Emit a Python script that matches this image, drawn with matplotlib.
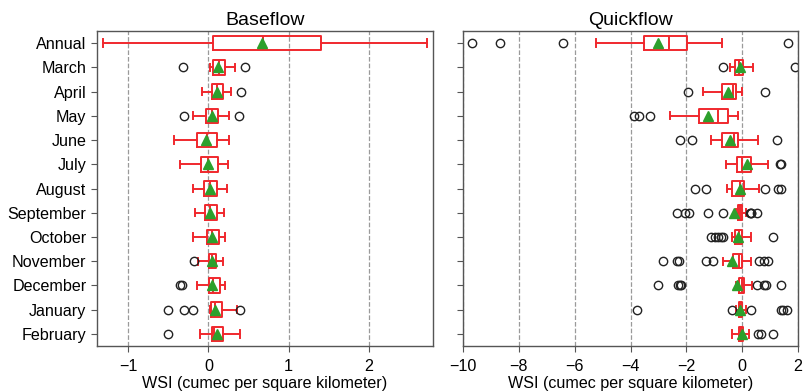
import numpy as np
import matplotlib
matplotlib.use("Agg")
import matplotlib.pyplot as plt

plt.rcParams['font.family'] = ['Liberation Sans', 'DejaVu Sans']

categories = ["Annual", "March", "April", "May", "June", "July", "August",
              "September", "October", "November", "December", "January", "February"]

# Baseflow summary statistics per category
base_whislo = [-1.32, 0.02, -0.08, -0.195, -0.43, -0.36, -0.195, -0.166, -0.19, -0.125, -0.14, 0.02, -0.11]
base_q1     = [0.054, 0.06, 0.046, -0.03, -0.145, -0.09, -0.05, -0.045, -0.02, 0.005, 0.01, 0.03, 0.04]
base_med    = [0.675, 0.13, 0.11, 0.04, -0.02, 0.0, 0.02, 0.02, 0.04, 0.04, 0.06, 0.08, 0.07]
base_q3     = [1.40, 0.20, 0.18, 0.125, 0.11, 0.12, 0.11, 0.11, 0.13, 0.10, 0.146, 0.175, 0.18]
base_whishi = [2.72, 0.33, 0.28, 0.25, 0.26, 0.24, 0.23, 0.19, 0.21, 0.18, 0.21, 0.35, 0.39]
base_mean   = [0.67, 0.125, 0.11, 0.04, -0.03, -0.01, 0.02, 0.02, 0.04, 0.04, 0.05, 0.085, 0.105]
base_fliers = [[], [-0.32, 0.45], [0.41], [-0.30, 0.38], [], [], [], [], [],
               [-0.18], [-0.36, -0.33], [-0.50, -0.31, -0.195, 0.39], [-0.50]]

# Quickflow summary statistics per category
quick_whislo = [-5.22, -0.44, -1.40, -2.58, -1.10, -0.59, -0.56, -0.22, -0.36, -0.70, -0.22, -0.22, -0.35]
quick_q1     = [-3.51, -0.27, -0.72, -1.55, -0.72, -0.19, -0.38, -0.15, -0.24, -0.32, -0.11, -0.13, -0.13]
quick_med    = [-2.61, -0.12, -0.32, -0.87, -0.31, -0.02, -0.06, -0.08, -0.10, -0.11, -0.02, -0.07, -0.03]
quick_q3     = [-1.98, 0.03, -0.22, -0.49, -0.15, 0.31, 0.06, -0.01, -0.02, 0.0, 0.07, -0.01, 0.04]
quick_whishi = [-0.72, 0.40, -0.02, -0.14, 0.58, 0.92, 0.60, 0.12, 0.30, 0.31, 0.37, 0.12, 0.25]
quick_mean   = [-3.03, -0.08, -0.50, -1.22, -0.44, 0.16, -0.08, -0.29, -0.15, -0.38, -0.17, -0.06, -0.01]
quick_fliers = [[-9.68, -8.68, -6.41, 1.63],
                [-0.68, 1.91],
                [-1.93, 0.82],
                [-3.86, -3.68, -3.29],
                [-2.21, -1.79, 1.24],
                [1.35, 1.38],
                [-1.70, -1.30, 0.80, 1.30, 1.38],
                [-2.35, -2.05, -1.90, -1.23, -0.69, 0.27, 0.30, 0.33, 0.53],
                [-1.10, -0.98, -0.88, -0.76, -0.68, 1.12],
                [-2.84, -2.32, -2.28, -1.28, -1.05, 0.60, 0.77, 0.93],
                [-3.02, -2.30, -2.24, -2.18, 0.52, 0.78, 0.85, 1.38],
                [-3.78, -0.38, 0.30, 1.38, 1.47, 1.60],
                [0.55, 0.67, 1.12]]


def build_stats(whislo, q1, med, q3, whishi, mean, fliers):
    return [dict(whislo=a, q1=b, med=c, q3=d, whishi=e, mean=f, fliers=g, label=lab)
            for a, b, c, d, e, f, g, lab in zip(whislo, q1, med, q3, whishi, mean, fliers, categories)]


red = '#f0282d'
style = dict(
    vert=False, showmeans=True, widths=0.6,
    boxprops=dict(color=red, linewidth=1.4),
    whiskerprops=dict(color=red, linewidth=1.4),
    capprops=dict(color=red, linewidth=1.4),
    medianprops=dict(color=red, linewidth=1.4),
    meanprops=dict(marker='^', markerfacecolor='#2ca02c', markeredgecolor='#2ca02c', markersize=7),
    flierprops=dict(marker='o', markerfacecolor='none', markeredgecolor='#222222', markersize=6),
)

fig = plt.figure(figsize=(8.05, 3.91), dpi=100)
ax1 = fig.add_axes([97/805, 1 - 346/391, (433 - 97)/805, (346 - 31)/391])
ax2 = fig.add_axes([463/805, 1 - 346/391, (798 - 463)/805, (346 - 31)/391])

positions = np.arange(len(categories), 0, -1)

ax1.bxp(build_stats(base_whislo, base_q1, base_med, base_q3, base_whishi, base_mean, base_fliers),
        positions=positions, **style)
ax2.bxp(build_stats(quick_whislo, quick_q1, quick_med, quick_q3, quick_whishi, quick_mean, quick_fliers),
        positions=positions, **style)

ax1.set_xlim(-1.39, 2.8)
ax1.set_xticks([-1, 0, 1, 2])
ax2.set_xlim(-10, 2)
ax2.set_xticks([-10, -8, -6, -4, -2, 0, 2])

for ax, title in ((ax1, "Baseflow"), (ax2, "Quickflow")):
    ax.set_ylim(0.5, len(categories) + 0.5)
    ax.set_yticks(positions)
    ax.set_title(title, fontsize=14, pad=4)
    ax.set_xlabel("WSI (cumec per square kilometer)", fontsize=11.6, labelpad=1)
    ax.xaxis.grid(True, linestyle='--', color='#9a9a9a', linewidth=0.9)
    ax.set_axisbelow(True)
    ax.tick_params(axis='both', labelsize=11.6, color='#555555', length=4)
    ax.tick_params(axis='x', pad=5.5)
    for sp in ax.spines.values():
        sp.set_color('#555555')
        sp.set_linewidth(1.0)

ax1.set_yticklabels(categories)
ax2.set_yticklabels([])

fig.savefig("out.png", dpi=100)
